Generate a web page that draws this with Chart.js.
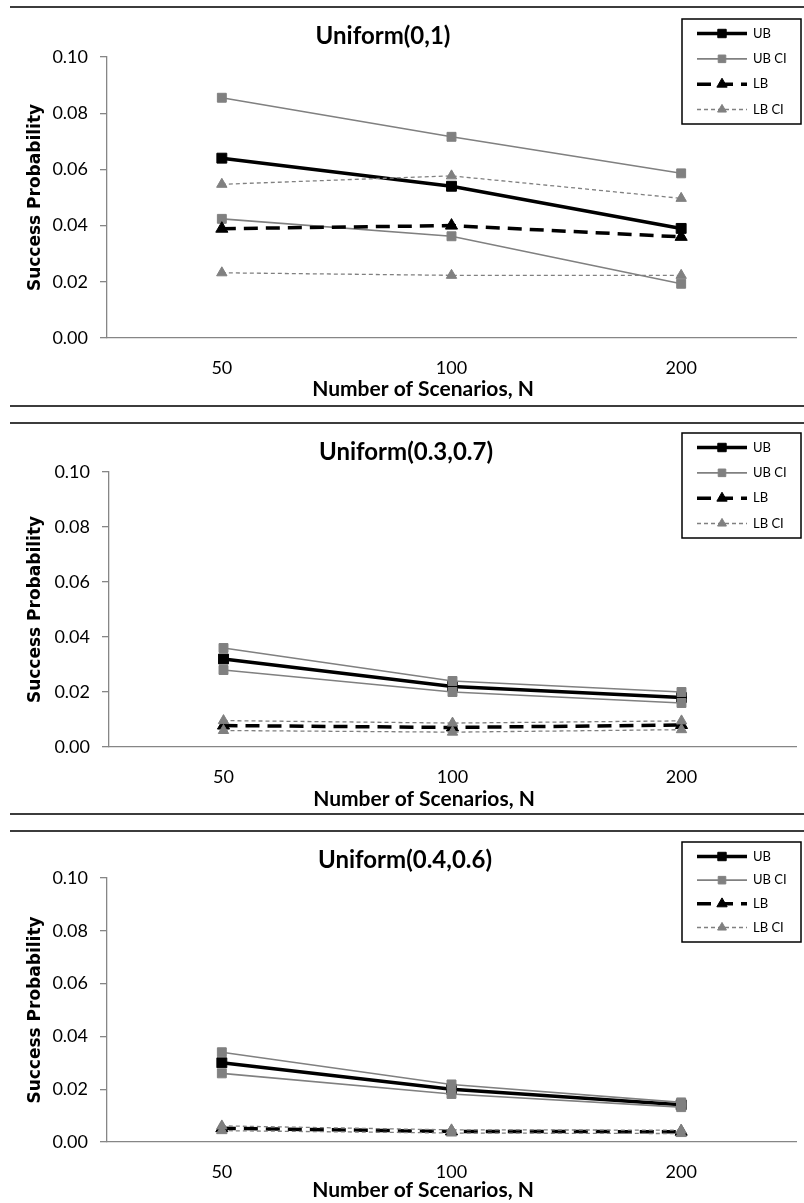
<!DOCTYPE html>
<html>
<head>
<meta charset="utf-8">
<script src="https://cdn.jsdelivr.net/npm/chart.js@4.4.1/dist/chart.umd.min.js"></script>
<style>
  html, body { margin: 0; padding: 0; background: #fff; }
  #page { position: relative; width: 804px; height: 1203px; overflow: hidden; background: #fff; }
  canvas { position: absolute; left: 0; }
  .rule { position: absolute; left: 10px; right: 0; height: 2px; background: #3c3c3c; }
</style>
</head>
<body>
<div id="page">
  <div class="rule" style="top:6px"></div>
  <div class="rule" style="top:405px"></div>
  <div class="rule" style="top:422px"></div>
  <div class="rule" style="top:813px"></div>
  <div class="rule" style="top:830px"></div>
  <canvas id="c1" width="804" height="400" style="top:0px"></canvas>
  <canvas id="c2" width="804" height="410" style="top:400px"></canvas>
  <canvas id="c3" width="804" height="393" style="top:810px"></canvas>
</div>
<script>
// Sample sizes on the x axis
const categories = ['50', '100', '200'];
const yTickLabels = ['0.00', '0.02', '0.04', '0.06', '0.08', '0.10'];
const seriesNames = ['UB', 'UB CI', 'LB', 'LB CI'];
const panelTitles = ['Uniform(0,1)', 'Uniform(0.3,0.7)', 'Uniform(0.4,0.6)'];
const xAxisTitle = 'Number of Scenarios, N';
const yAxisTitle = 'Success Probability';

// Uniform(0,1)
const ub1      = [0.0640, 0.0540, 0.0390];
const ubHigh1  = [0.0855, 0.0716, 0.0586];
const ubLow1   = [0.0424, 0.0362, 0.0193];
const lb1      = [0.0389, 0.0400, 0.0360];
const lbHigh1  = [0.0547, 0.0577, 0.0497];
const lbLow1   = [0.0232, 0.0223, 0.0223];

// Uniform(0.3,0.7)
const ub2      = [0.0320, 0.0220, 0.0180];
const ubHigh2  = [0.0360, 0.0240, 0.0200];
const ubLow2   = [0.0280, 0.0200, 0.0160];
const lb2      = [0.0078, 0.0071, 0.0080];
const lbHigh2  = [0.0096, 0.0087, 0.0095];
const lbLow2   = [0.0060, 0.0054, 0.0063];

// Uniform(0.4,0.6)
const ub3      = [0.0300, 0.0200, 0.0141];
const ubHigh3  = [0.0340, 0.0218, 0.0150];
const ubLow3   = [0.0260, 0.0182, 0.0132];
const lb3      = [0.0052, 0.0040, 0.0039];
const lbHigh3  = [0.0061, 0.0046, 0.0045];
const lbLow3   = [0.0043, 0.0034, 0.0032];

const BLACK = '#000000';
const GREY = '#808080';
const AXIS = '#868686';

function buildDatasets(ub, ubHigh, ubLow, lb, lbHigh, lbLow) {
  const ubStyle = { borderColor: BLACK, backgroundColor: BLACK, borderWidth: 3.5,
    pointStyle: 'rect', pointRadius: 7, pointBorderWidth: 1, order: 4 };
  const ciStyle = { borderColor: GREY, backgroundColor: GREY, borderWidth: 1.6,
    pointStyle: 'rect', pointRadius: 6.3, pointBorderWidth: 1, order: 3 };
  const lbStyle = { borderColor: BLACK, backgroundColor: BLACK, borderWidth: 3.5, borderDash: [14, 8],
    pointStyle: 'triangle', pointRadius: 7, pointBorderWidth: 1, order: 2 };
  const lciStyle = { borderColor: GREY, backgroundColor: GREY, borderWidth: 1.3, borderDash: [4, 3],
    pointStyle: 'triangle', pointRadius: 6, pointBorderWidth: 1, order: 1 };
  return [
    Object.assign({ label: seriesNames[0], data: ub }, ubStyle),
    Object.assign({ label: seriesNames[1], data: ubHigh }, ciStyle),
    Object.assign({ label: seriesNames[1], data: ubLow }, ciStyle),
    Object.assign({ label: seriesNames[2], data: lb }, lbStyle),
    Object.assign({ label: seriesNames[3], data: lbHigh }, lciStyle),
    Object.assign({ label: seriesNames[3], data: lbLow }, lciStyle)
  ];
}

function drawMarker(ctx, style, r, x, y) {
  ctx.beginPath();
  if (style === 'rect') {
    const s = r * Math.SQRT1_2;
    ctx.rect(x - s, y - s, 2 * s, 2 * s);
  } else {
    ctx.moveTo(x, y - r);
    ctx.lineTo(x + r * 0.866, y + r * 0.5);
    ctx.lineTo(x - r * 0.866, y + r * 0.5);
    ctx.closePath();
  }
  ctx.fill();
  ctx.stroke();
}

// Chart title, x axis title and the boxed legend
const panelDecor = {
  id: 'panelDecor',
  afterDraw(chart, args, o) {
    const ctx = chart.ctx;
    ctx.save();
    ctx.fillStyle = BLACK;
    ctx.textAlign = 'center';
    ctx.textBaseline = 'alphabetic';
    ctx.font = 'bold 24px Lato';
    ctx.fillText(o.title, o.titleX, o.titleBase);
    ctx.font = 'bold 21px Lato';
    ctx.fillText(o.xTitle, o.xTitleX, o.xTitleBase);

    const L = o.legend;
    ctx.fillStyle = '#ffffff';
    ctx.fillRect(L.left, L.top, L.right - L.left, L.bottom - L.top);
    ctx.strokeStyle = BLACK;
    ctx.lineWidth = 1.5;
    ctx.strokeRect(L.left, L.top, L.right - L.left, L.bottom - L.top);

    ctx.textBaseline = 'middle';
    const seen = new Set();
    let row = 0;
    chart.data.datasets.forEach(ds => {
      if (seen.has(ds.label)) return;
      seen.add(ds.label);
      const y = L.top + L.firstRow + row * L.rowGap;
      ctx.save();
      ctx.strokeStyle = ds.borderColor;
      ctx.lineWidth = ds.borderWidth;
      ctx.setLineDash(ds.borderDash || []);
      ctx.beginPath();
      ctx.moveTo(L.lineX0, y);
      ctx.lineTo(L.lineX1, y);
      ctx.stroke();
      ctx.setLineDash([]);
      ctx.lineWidth = 1;
      ctx.fillStyle = ds.backgroundColor;
      drawMarker(ctx, ds.pointStyle, ds.pointRadius * 0.85, (L.lineX0 + L.lineX1) / 2, y);
      ctx.restore();
      ctx.fillStyle = BLACK;
      ctx.textAlign = 'left';
      ctx.font = '13px Lato';
      ctx.fillText(ds.label, L.textX, y);
      row++;
    });
    ctx.restore();
  }
};

function makeChart(id, datasets, geo, deco) {
  return new Chart(document.getElementById(id), {
    type: 'line',
    data: { labels: categories, datasets: datasets },
    options: {
      responsive: false,
      animation: false,
      devicePixelRatio: 1,
      layout: { padding: { top: geo.top, left: 0, right: geo.right, bottom: 0 } },
      elements: { line: { tension: 0, fill: false } },
      scales: {
        x: {
          type: 'category',
          offset: true,
          grid: { display: false },
          border: { display: true, color: AXIS, width: 1.3 },
          ticks: { color: BLACK, padding: 11, font: { family: 'Lato', size: 18 }, maxRotation: 0 },
          afterFit: s => { s.height = geo.xHeight; }
        },
        y: {
          min: 0,
          max: 0.1,
          grid: { drawOnChartArea: false, drawTicks: true, tickLength: 7, color: AXIS, lineWidth: 1.3 },
          border: { display: true, color: AXIS, width: 1.3 },
          ticks: {
            stepSize: 0.02,
            padding: 12,
            color: BLACK,
            font: { family: 'Lato', size: 18 },
            callback: (v, i) => yTickLabels[i]
          },
          title: {
            display: true,
            text: yAxisTitle,
            color: BLACK,
            font: { family: 'DejaVu Sans', size: 17, weight: 'bold' },
            padding: { top: 25, bottom: 0 }
          },
          afterFit: s => { s.width = geo.yWidth; }
        }
      },
      plugins: {
        legend: { display: false },
        tooltip: { enabled: false },
        panelDecor: deco
      }
    },
    plugins: [panelDecor]
  });
}

function legendBox(top, bottom) {
  return { left: 682, right: 801, top: top, bottom: bottom,
    firstRow: 14.5, rowGap: (bottom - top - 29) / 3,
    lineX0: 697, lineX1: 747, textX: 753 };
}

makeChart('c1', buildDatasets(ub1, ubHigh1, ubLow1, lb1, lbHigh1, lbLow1),
  { top: 57, right: 7, yWidth: 107, xHeight: 62 },
  { title: panelTitles[0], titleX: 383, titleBase: 44, xTitle: xAxisTitle, xTitleX: 423, xTitleBase: 396,
    legend: legendBox(19, 124) });

makeChart('c2', buildDatasets(ub2, ubHigh2, ubLow2, lb2, lbHigh2, lbLow2),
  { top: 72, right: 4, yWidth: 109, xHeight: 63 },
  { title: panelTitles[1], titleX: 406, titleBase: 60, xTitle: xAxisTitle, xTitleX: 424, xTitleBase: 406,
    legend: legendBox(33, 138) });

makeChart('c3', buildDatasets(ub3, ubHigh3, ubLow3, lb3, lbHigh3, lbLow3),
  { top: 68, right: 4, yWidth: 107, xHeight: 61 },
  { title: panelTitles[2], titleX: 405, titleBase: 58, xTitle: xAxisTitle, xTitleX: 423, xTitleBase: 387,
    legend: legendBox(32, 132) });
</script>
</body>
</html>
